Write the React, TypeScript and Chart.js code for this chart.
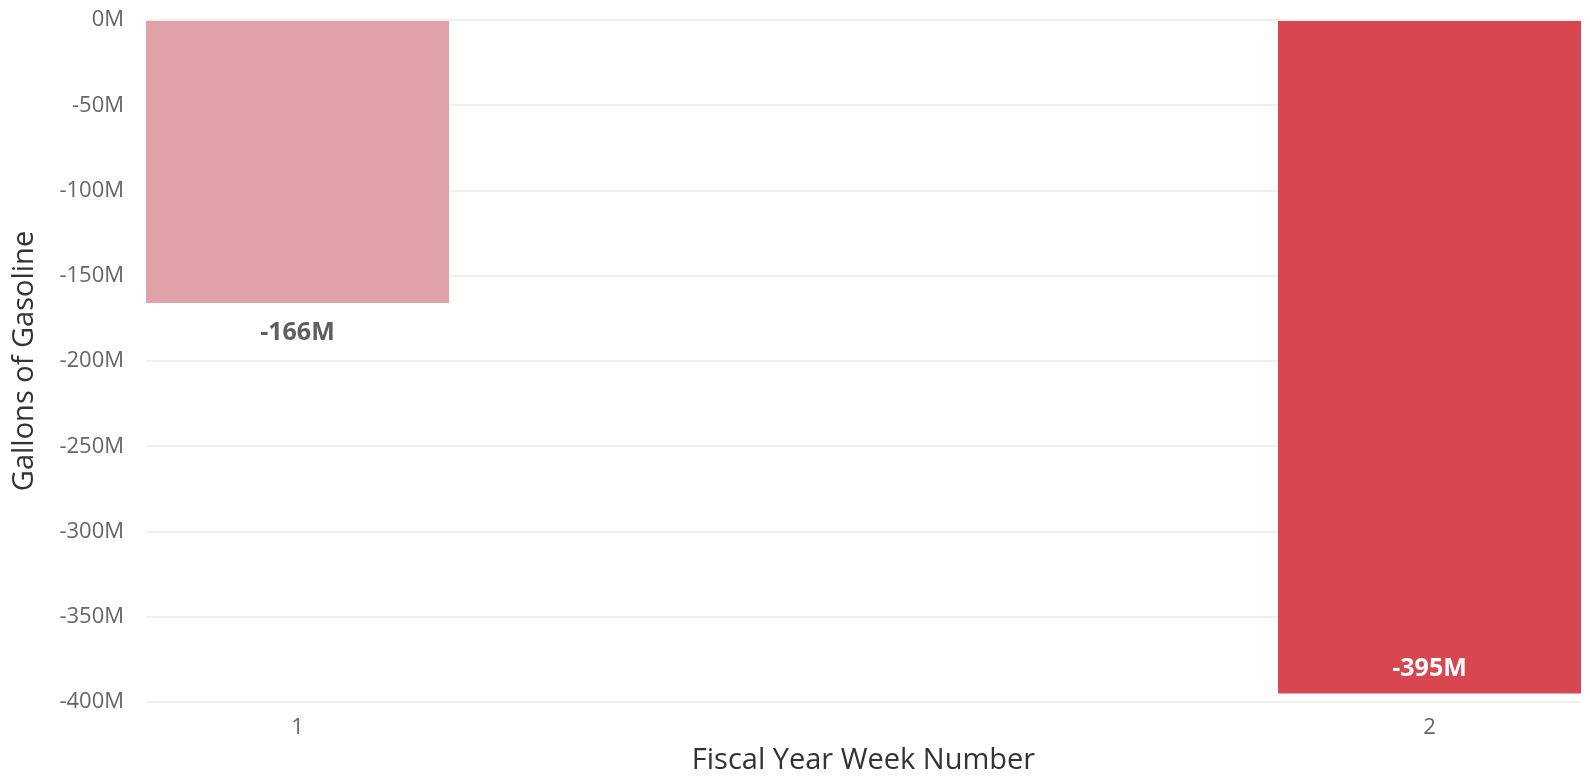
import React, { useEffect, useRef } from "react";
import { Chart, registerables } from "chart.js";

Chart.register(...registerables);

// ---- data ----
const weekNumbers: number[] = [1, 2];
const gallons: number[] = [-166e6, -395e6];
const barColors: string[] = ["#E0A2A8", "#D84650"];
const labelPlacement: string[] = ["outside", "inside"];
const yTickStep = 50e6;
const yMin = -400e6;
const yMax = 0;

const FONT = "'Open Sans', 'Noto Sans', sans-serif";

const fmtM = (v: number) => `${Math.round(v / 1e6)}M`;

const dataLabelPlugin = {
  id: "dataLabels",
  afterDatasetsDraw(chart: any) {
    const ctx = chart.ctx;
    const meta = chart.getDatasetMeta(0);
    ctx.save();
    ctx.font = `bold 25px ${FONT}`;
    ctx.textAlign = "center";
    ctx.textBaseline = "middle";
    meta.data.forEach((bar: any, i: number) => {
      const v = gallons[i];
      const inside = labelPlacement[i] === "inside";
      ctx.fillStyle = inside ? "#FFFFFF" : "#5F5F5F";
      const y = inside ? bar.y - 25 : bar.y + 30;
      ctx.fillText(fmtM(v), bar.x, y);
    });
    ctx.restore();
  },
};

export default function App() {
  const ref = useRef<HTMLCanvasElement | null>(null);

  useEffect(() => {
    if (!ref.current) return;
    const chart = new Chart(ref.current, {
      type: "bar",
      data: {
        datasets: [
          {
            data: weekNumbers.map((w, i) => ({ x: w, y: gallons[i] })),
            backgroundColor: barColors,
            borderWidth: 0,
            categoryPercentage: 1,
            barPercentage: 0.2677,
          },
        ],
      },
      options: {
        animation: false,
        responsive: false,
        layout: { padding: { top: 20, right: 9, left: 0, bottom: 0 } },
        plugins: {
          legend: { display: false },
          tooltip: { enabled: false },
        },
        scales: {
          x: {
            type: "linear",
            offset: false,
            min: 0.8662,
            max: 2.1338,
            grid: { display: false, drawTicks: false },
            border: { display: false },
            afterBuildTicks: (scale: any) => {
              scale.ticks = weekNumbers.map((w) => ({ value: w }));
            },
            afterFit: (scale: any) => {
              scale.height = 76;
              scale.paddingLeft = 0;
              scale.paddingRight = 0;
            },
            ticks: {
              stepSize: 1,
              padding: 13,
              color: "#666666",
              font: { family: FONT, size: 22 },
              callback: (v: any) => String(v),
            },
            title: {
              display: true,
              text: "Fiscal Year Week Number",
              color: "#333333",
              font: { family: FONT, size: 29 },
              padding: { top: 0, bottom: 0 },
            },
          },
          y: {
            type: "linear",
            min: yMin,
            max: yMax,
            grid: { color: "#F0F0F0", lineWidth: 2, drawTicks: false },
            border: { display: false },
            afterFit: (scale: any) => {
              scale.width = 146;
              scale.paddingTop = 0;
              scale.paddingBottom = 0;
            },
            ticks: {
              stepSize: yTickStep,
              padding: 22,
              color: "#666666",
              font: { family: FONT, size: 22 },
              callback: (v: any) => fmtM(Number(v)),
            },
            title: {
              display: true,
              text: "Gallons of Gasoline",
              color: "#333333",
              font: { family: FONT, size: 29 },
              padding: { top: 7, bottom: 0 },
            },
          },
        },
      },
      plugins: [dataLabelPlugin],
    } as any);
    return () => chart.destroy();
  }, []);

  return (
    <div style={{ position: "absolute", left: 0, top: 0, width: 1590, height: 778 }}>
      <canvas ref={ref} width={1590} height={778} />
    </div>
  );
}
